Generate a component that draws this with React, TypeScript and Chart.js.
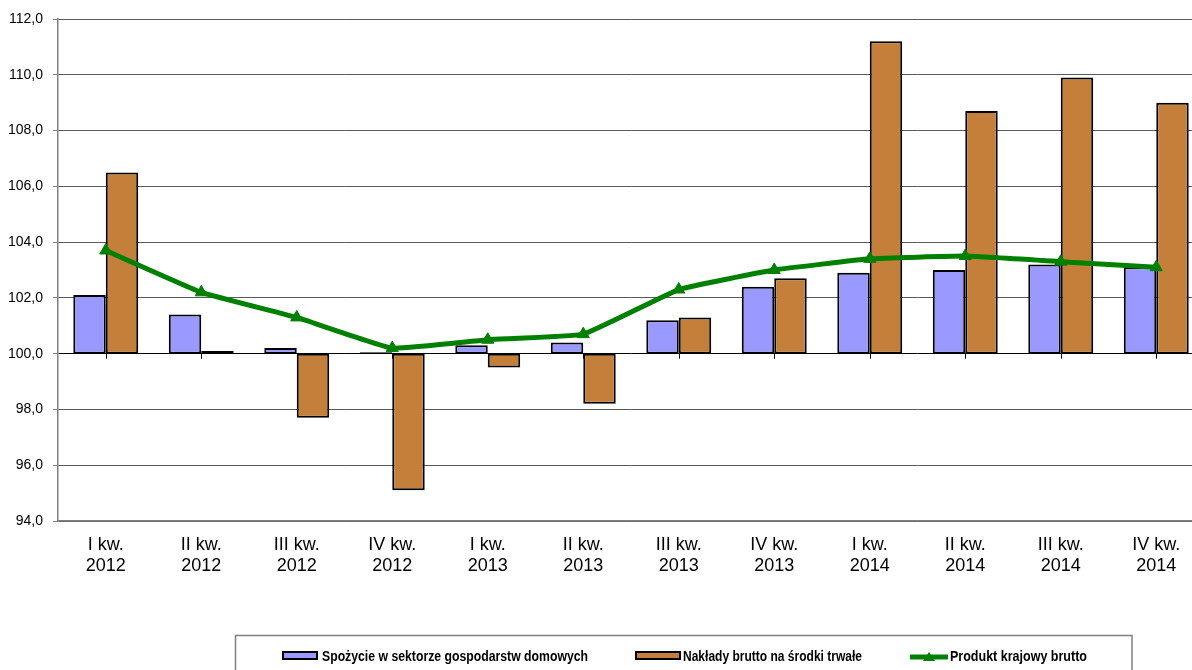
import React, { useEffect, useRef } from "react";
import { Chart, registerables } from "chart.js";

Chart.register(...registerables);

const categories: string[][] = [
  ["I kw.", "2012"], ["II kw.", "2012"], ["III kw.", "2012"], ["IV kw.", "2012"],
  ["I kw.", "2013"], ["II kw.", "2013"], ["III kw.", "2013"], ["IV kw.", "2013"],
  ["I kw.", "2014"], ["II kw.", "2014"], ["III kw.", "2014"], ["IV kw.", "2014"],
];
const consumption = [102.1, 101.4, 100.2, 100.05, 100.3, 100.4, 101.2, 102.4, 102.9, 103.0, 103.2, 103.1];
const investment = [106.5, 100.1, 97.7, 95.1, 99.5, 98.2, 101.3, 102.7, 111.2, 108.7, 109.9, 109.0];
const gdp = [103.7, 102.2, 101.3, 100.2, 100.5, 100.7, 102.3, 103.0, 103.4, 103.5, 103.3, 103.1];
const seriesNames = [
  "Spożycie w sektorze gospodarstw domowych",
  "Nakłady brutto na środki trwałe",
  "Produkt krajowy brutto",
];
const BASE = 100;
const Y_MIN = 94;
const Y_MAX = 112;
const Y_STEP = 2;

const BLUE = "#9999FF";
const ORANGE = "#C4803A";
const GREEN = "#008000";

const W = 1212;
const H = 670;

const extrasPlugin = {
  id: "extras",
  afterDatasetsDraw(chart: any) {
    const ctx = chart.ctx;
    const x = chart.scales.x;
    const y = chart.scales.y;
    const yb = y.getPixelForValue(BASE);
    ctx.save();
    ctx.strokeStyle = "#000";
    ctx.lineWidth = 1;
    for (let i = 0; i < categories.length; i++) {
      const px = Math.round(x.getPixelForValue(i)) + 0.5;
      ctx.beginPath();
      ctx.moveTo(px, yb);
      ctx.lineTo(px, yb + 5);
      ctx.stroke();
    }
    ctx.restore();
  },
  afterDraw(chart: any) {
    const ctx = chart.ctx;
    ctx.save();
    // legend box
    ctx.strokeStyle = "#808080";
    ctx.lineWidth = 1.5;
    ctx.strokeRect(235.5, 635.5, 1132 - 235.5, 60);
    const cy = 657;
    ctx.font = "bold 14px 'Liberation Sans', Arial, sans-serif";
    ctx.fillStyle = "#000";
    ctx.textBaseline = "middle";
    ctx.textAlign = "left";
    // item 1
    ctx.fillStyle = BLUE;
    ctx.fillRect(283, 652, 34, 7);
    ctx.strokeStyle = "#000";
    ctx.lineWidth = 2;
    ctx.strokeRect(283, 652, 34, 7);
    ctx.fillStyle = "#000";
    ctx.fillText(seriesNames[0], 322, cy, 588 - 322);
    // item 2
    ctx.fillStyle = ORANGE;
    ctx.fillRect(636, 652, 44, 7);
    ctx.strokeRect(636, 652, 44, 7);
    ctx.fillStyle = "#000";
    ctx.fillText(seriesNames[1], 683, cy, 862 - 683);
    // item 3
    ctx.strokeStyle = GREEN;
    ctx.lineWidth = 5;
    ctx.beginPath();
    ctx.moveTo(910, cy);
    ctx.lineTo(948, cy);
    ctx.stroke();
    ctx.fillStyle = GREEN;
    ctx.beginPath();
    ctx.moveTo(929, cy - 5);
    ctx.lineTo(935, cy + 4);
    ctx.lineTo(923, cy + 4);
    ctx.closePath();
    ctx.fill();
    ctx.fillStyle = "#000";
    ctx.fillText(seriesNames[2], 950, cy, 1087 - 950);
    ctx.restore();
  },
};

export default function App() {
  const ref = useRef<HTMLCanvasElement | null>(null);
  useEffect(() => {
    document.body.style.margin = "0";
    document.body.style.overflow = "hidden";
    const canvas = ref.current!;
    const chart = new Chart(canvas, {
      type: "bar",
      data: {
        labels: categories as any,
        datasets: [
          {
            type: "line",
            label: seriesNames[2],
            data: gdp,
            borderColor: GREEN,
            backgroundColor: GREEN,
            borderWidth: 5,
            pointStyle: "triangle",
            pointRadius: 7,
            pointBorderWidth: 1,
            pointBackgroundColor: GREEN,
            pointBorderColor: GREEN,
            tension: 0.1,
            order: 0,
          } as any,
          {
            label: seriesNames[0],
            data: consumption.map((v) => [BASE, v]) as any,
            backgroundColor: BLUE,
            borderColor: "#000",
            borderWidth: 2,
            borderSkipped: false,
            barPercentage: 1,
            categoryPercentage: 0.68,
            order: 1,
          },
          {
            label: seriesNames[1],
            data: investment.map((v) => [BASE, v]) as any,
            backgroundColor: ORANGE,
            borderColor: "#000",
            borderWidth: 2,
            borderSkipped: false,
            barPercentage: 1,
            categoryPercentage: 0.68,
            order: 1,
          },
        ],
      },
      options: {
        responsive: false,
        animation: false,
        layout: { padding: { top: 19, right: 2, left: 0, bottom: 0 } },
        plugins: { legend: { display: false }, tooltip: { enabled: false } },
        scales: {
          x: {
            offset: true,
            grid: { display: false, drawTicks: false },
            border: { display: true, color: "#808080", width: 1.5 },
            ticks: {
              color: "#000",
              font: { family: "'Liberation Sans', Arial, sans-serif", size: 18, lineHeight: 1.15 },
              padding: 14,
              maxRotation: 0,
              autoSkip: false,
            },
            afterFit(scale: any) {
              scale.height = 149;
            },
          },
          y: {
            min: Y_MIN,
            max: Y_MAX,
            ticks: {
              stepSize: Y_STEP,
              color: "#000",
              font: { family: "'Liberation Sans', Arial, sans-serif", size: 14 },
              padding: 10,
              callback: (v: any) => Number(v).toFixed(1).replace(".", ","),
            },
            grid: {
              color: (c: any) => (c.tick && c.tick.value === BASE ? "#000" : "#5a5a5a"),
              lineWidth: 1,
              tickLength: 5,
              tickColor: "#808080",
            },
            border: { display: true, color: "#808080", width: 1.5 },
            afterFit(scale: any) {
              scale.width = 58;
            },
          },
        },
      },
      plugins: [extrasPlugin],
    });
    return () => chart.destroy();
  }, []);
  return (
    <div style={{ width: W, height: H, overflow: "hidden" }}>
      <canvas ref={ref} width={W} height={H} style={{ width: W, height: H, display: "block" }} />
    </div>
  );
}
